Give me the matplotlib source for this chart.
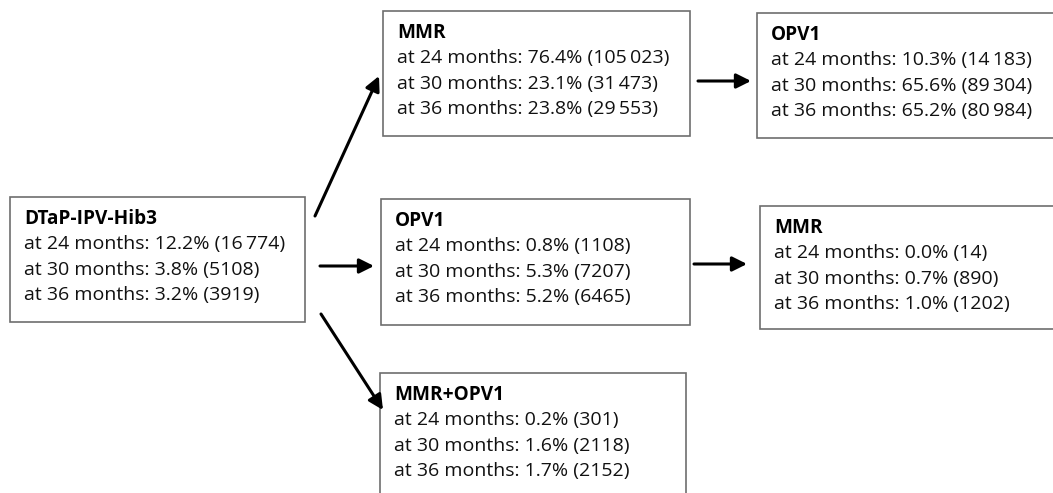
import matplotlib.pyplot as plt
from matplotlib.patches import Rectangle, FancyArrowPatch

plt.rcParams['font.family'] = ['Open Sans', 'DejaVu Sans']

# vaccine sequence data
titles = ['DTaP-IPV-Hib3', 'MMR', 'OPV1', 'OPV1', 'MMR', 'MMR+OPV1']
months = [24, 30, 36]
pct = [[12.2, 3.8, 3.2],
       [76.4, 23.1, 23.8],
       [10.3, 65.6, 65.2],
       [0.8, 5.3, 5.2],
       [0.0, 0.7, 1.0],
       [0.2, 1.6, 1.7]]
counts = [[16774, 5108, 3919],
          [105023, 31473, 29553],
          [14183, 89304, 80984],
          [1108, 7207, 6465],
          [14, 890, 1202],
          [301, 2118, 2152]]

# box layout in pixels: left, top, right, bottom
boxes = [(10, 197, 305, 322),
         (383, 11, 690, 136),
         (757, 13, 1060, 138),
         (381, 199, 690, 325),
         (760, 206, 1060, 329),
         (380, 373, 686, 510)]

arrows = [((315, 216), (379, 76)),
          ((320, 266), (374, 266)),
          ((321, 314), (383, 410)),
          ((698, 81), (751, 81)),
          ((694, 264), (747, 264))]


def fmt(n):
    # thin-space thousands separator, only for 5+ digits
    if n >= 10000:
        return '{:,}'.format(n).replace(',', '\u2009')
    return str(n)


fig = plt.figure(figsize=(10.53, 4.93), dpi=100)
ax = fig.add_axes([0, 0, 1, 1])
ax.set_xlim(0, 1053)
ax.set_ylim(493, 0)
ax.axis('off')

for i, (l, t, r, b) in enumerate(boxes):
    ax.add_patch(Rectangle((l, t), r - l, b - t, facecolor='white',
                           edgecolor='#6e6e6e', linewidth=1.2))
    tx = l + 14
    ty = t + 22
    ax.text(tx, ty, titles[i], fontsize=13.7, fontweight='bold',
            va='center', ha='left', color='black')
    for j, m in enumerate(months):
        s = 'at {} months: {:.1f}% ({})'.format(m, pct[i][j], fmt(counts[i][j]))
        ax.text(tx, ty + 25.3 * (j + 1), s, fontsize=14, va='center',
                ha='left', color='#111111')

for (x0, y0), (x1, y1) in arrows:
    ax.add_patch(FancyArrowPatch((x0, y0), (x1, y1), arrowstyle='-|>',
                                 mutation_scale=22, linewidth=2.2,
                                 color='black', shrinkA=0, shrinkB=0))

fig.savefig('out.png', dpi=100)
